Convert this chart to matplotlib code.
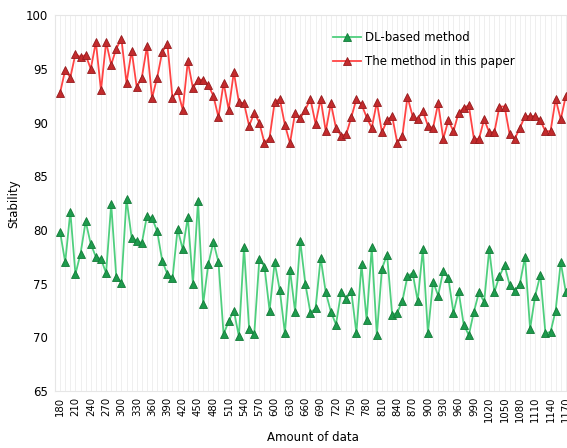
import numpy as np
import matplotlib.pyplot as plt
from matplotlib.ticker import MultipleLocator

# amount of data (x axis), one sample every 10
amount = np.arange(180, 1171, 10)

# stability of the DL-based method
dl_method = [79.8, 77.0, 81.7, 75.9, 77.8, 80.8, 78.7, 77.5, 77.3, 76.0,
             82.4, 75.6, 75.1, 82.9, 79.3, 79.0, 78.8, 81.3, 81.1, 79.9,
             77.1, 75.9, 75.5, 80.1, 78.2, 81.2, 75.0, 82.7, 73.1, 76.8,
             78.9, 77.0, 70.3, 71.5, 72.5, 70.1, 78.4, 70.8, 70.3, 77.3,
             76.6, 72.5, 77.0, 74.4, 70.4, 76.3, 72.4, 79.0, 75.0, 72.3,
             72.7, 77.4, 74.2, 72.4, 71.2, 74.2, 73.6, 74.3, 70.4, 76.8,
             71.6, 78.4, 70.2, 76.4, 77.7, 72.1, 72.3, 73.4, 75.7, 76.0,
             73.4, 78.2, 70.4, 75.2, 73.9, 76.2, 75.5, 72.3, 74.3, 71.2,
             70.2, 72.4, 74.2, 73.3, 78.2, 74.2, 75.7, 76.7, 74.9, 74.3,
             75.0, 77.5, 70.8, 73.9, 75.8, 70.4, 70.5, 72.5, 77.0, 74.2]

# stability of the proposed method
our_method = [92.8, 94.9, 94.2, 96.4, 96.1, 96.3, 95.0, 97.5, 93.0, 97.5,
              95.4, 96.9, 97.8, 93.7, 96.7, 93.3, 94.2, 97.1, 92.3, 94.2,
              96.6, 97.3, 92.3, 93.0, 91.2, 95.7, 93.2, 94.0, 94.0, 93.5,
              92.5, 90.5, 93.7, 91.2, 94.7, 91.9, 91.8, 89.7, 90.9, 90.0,
              88.1, 88.6, 91.9, 92.2, 89.8, 88.1, 90.9, 90.4, 91.2, 92.2,
              89.9, 92.2, 89.2, 91.8, 89.5, 88.8, 88.9, 90.5, 92.2, 91.7,
              90.5, 89.5, 91.9, 89.1, 90.2, 90.6, 88.1, 88.8, 92.4, 90.6,
              90.3, 91.1, 89.7, 89.5, 91.8, 88.5, 90.2, 89.2, 90.9, 91.4,
              91.6, 88.5, 88.5, 90.3, 89.1, 89.1, 91.5, 91.5, 88.9, 88.5,
              89.5, 90.6, 90.6, 90.6, 90.2, 89.2, 89.2, 92.2, 90.3, 92.5]

fig = plt.figure(figsize=(5.67, 4.48), dpi=100)
# plot area runs slightly past the right edge of the figure
ax = fig.add_axes([0.097, 0.127, 0.910, 0.839])

ax.plot(amount, dl_method, color='#4fcf7e', lw=1.3, marker='^', ms=5.5,
        mfc='#1d9a4c', mec='#137a38', mew=0.6, label='DL-based method', zorder=3)
ax.plot(amount, our_method, color='#ff4444', lw=1.3, marker='^', ms=5.5,
        mfc='#c22a2c', mec='#951b1d', mew=0.6, label='The method in this paper', zorder=3)

ax.set_xlim(170, 1180)
ax.set_ylim(65, 100)
ax.xaxis.set_minor_locator(MultipleLocator(10))
ax.set_xticks(np.arange(180, 1171, 30))
ax.set_yticks(np.arange(65, 101, 5))
ax.tick_params(axis='x', which='both', length=0, labelsize=7.3, labelrotation=90, pad=4)
ax.tick_params(axis='y', length=0, labelsize=8.5, pad=5)

# light vertical grid at every sample
ax.grid(True, axis='x', which='both', color='#ededed', lw=0.6)
ax.set_axisbelow(True)
for s in ax.spines.values():
    s.set_color('#e6e6e6')
    s.set_linewidth(0.8)

ax.set_xlabel('Amount of data', fontsize=8.5, labelpad=6)
ax.set_ylabel('Stability', fontsize=8.5, labelpad=4)

ax.legend(loc='upper left', bbox_to_anchor=(0.518, 0.985), frameon=False,
          fontsize=8.5, handlelength=2.4, labelspacing=0.9, handletextpad=0.3)

fig.savefig('out.png', dpi=100)
